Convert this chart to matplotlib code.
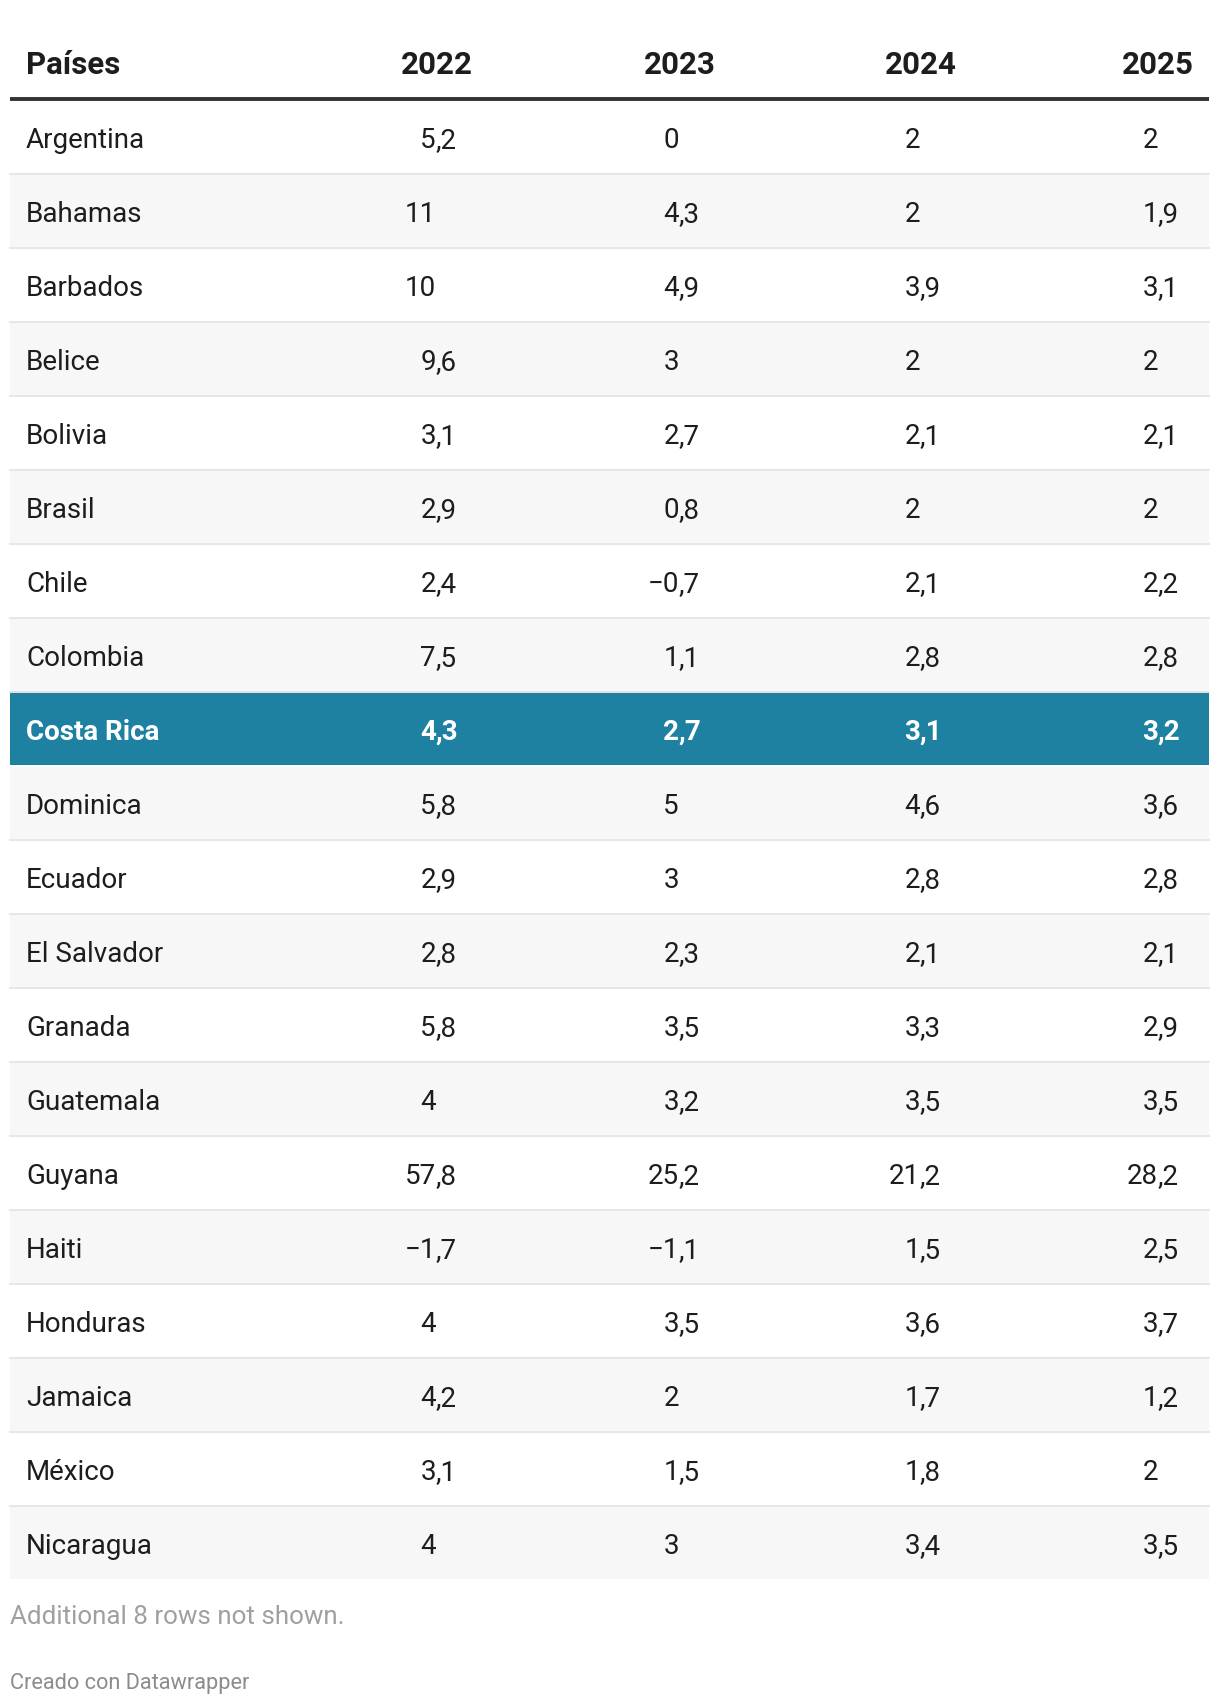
import matplotlib
matplotlib.use("Agg")
import matplotlib.pyplot as plt
from matplotlib.patches import Rectangle

# data
countries = ["Argentina", "Bahamas", "Barbados", "Belice", "Bolivia", "Brasil",
             "Chile", "Colombia", "Costa Rica", "Dominica", "Ecuador",
             "El Salvador", "Granada", "Guatemala", "Guyana", "Haiti",
             "Honduras", "Jamaica", "México", "Nicaragua"]
years = ["2022", "2023", "2024", "2025"]
v2022 = [5.2, 11, 10, 9.6, 3.1, 2.9, 2.4, 7.5, 4.3, 5.8, 2.9, 2.8, 5.8, 4, 57.8, -1.7, 4, 4.2, 3.1, 4]
v2023 = [0, 4.3, 4.9, 3, 2.7, 0.8, -0.7, 1.1, 2.7, 5, 3, 2.3, 3.5, 3.2, 25.2, -1.1, 3.5, 2, 1.5, 3]
v2024 = [2, 2, 3.9, 2, 2.1, 2, 2.1, 2.8, 3.1, 4.6, 2.8, 2.1, 3.3, 3.5, 21.2, 1.5, 3.6, 1.7, 1.8, 3.4]
v2025 = [2, 1.9, 3.1, 2, 2.1, 2, 2.2, 2.8, 3.2, 3.6, 2.8, 2.1, 2.9, 3.5, 28.2, 2.5, 3.7, 1.2, 2, 3.5]
highlight = "Costa Rica"
note = "Additional 8 rows not shown."
credit = "Creado con Datawrapper"

columns = [v2022, v2023, v2024, v2025]

plt.rcParams['font.family'] = ['Roboto', 'DejaVu Sans']

W, H = 1220, 1706
fig = plt.figure(figsize=(W / 100, H / 100), dpi=100)
ax = fig.add_axes([0, 0, 1, 1])
ax.set_xlim(0, W)
ax.set_ylim(H, 0)
ax.axis('off')

left, right = 10, 1209
top = 100
row_h = 74
col_x = [437, 680, 921, 1159]   # decimal-comma positions
text_c = '#1d1d1d'
hl_c = '#1e81a2'
fs = 20


def split_num(v):
    s = f"{v:.1f}".replace('.', ',').replace('-', '\u2212')
    ip, dp = s.split(',')
    if abs(v - round(v)) < 1e-9:
        return ip, ''
    return ip, ',' + dp


# header
ax.text(26, 74, "Países", fontsize=22.5, fontweight='bold', color=text_c,
        ha='left', va='baseline')
for x, y in zip(col_x[:3], years[:3]):
    ax.text(x, 74, y, fontsize=22.5, fontweight='bold', color=text_c,
            ha='center', va='baseline')
ax.text(1194, 74, years[3], fontsize=22.5, fontweight='bold', color=text_c,
        ha='right', va='baseline')
ax.plot([left, right], [top, top], color='#333333', lw=2.8, solid_capstyle='butt')

for i, name in enumerate(countries):
    y0 = top + 1.5 + i * row_h
    yb = top + i * row_h + 48
    hl = name == highlight
    if hl:
        ax.add_patch(Rectangle((left, y0 - 1.5), right - left, row_h, color=hl_c, lw=0))
    elif i % 2 == 1:
        ax.add_patch(Rectangle((left, y0), right - left, row_h - 1.5, color='#f7f7f7', lw=0))
    if i < len(countries) - 1 and not hl:
        ax.plot([left, right], [y0 + row_h - 1, y0 + row_h - 1], color='#e6e6e6', lw=1.4)
    c = 'white' if hl else text_c
    w = 'bold' if hl else 'normal'
    ax.text(26, yb, name, fontsize=fs, color=c, fontweight=w, ha='left', va='baseline')
    for x, vals in zip(col_x, columns):
        ip, dp = split_num(vals[i])
        ax.text(x - 1, yb, ip, fontsize=fs, color=c, fontweight=w, ha='right', va='baseline')
        if dp:
            ax.text(x - 1, yb, dp, fontsize=fs, color=c, fontweight=w, ha='left', va='baseline')

ax.text(10, 1624, note, fontsize=18.7, color='#a0a0a0', ha='left', va='baseline')
ax.text(10, 1689, credit, fontsize=15.7, color='#8c8c8c', ha='left', va='baseline')

fig.savefig('out.png', dpi=100, facecolor='white')
